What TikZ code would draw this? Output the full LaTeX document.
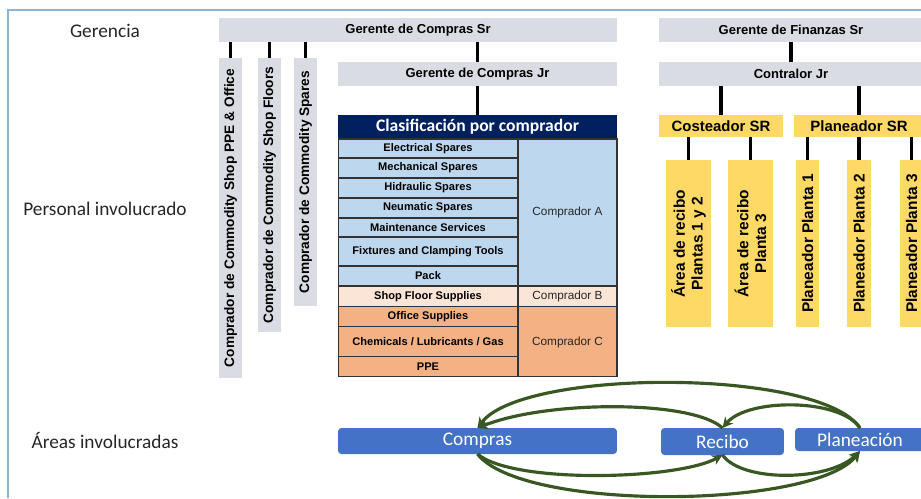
\documentclass[tikz,border=0pt]{standalone}
\usepackage{fontspec}
\setmainfont{Liberation Sans}
\newfontfamily\calibri{Carlito}
\usetikzlibrary{positioning,arrows.meta}

\definecolor{boxgrey}{RGB}{217,220,227}
\definecolor{navy}{RGB}{0,32,96}
\definecolor{rowblue}{RGB}{189,215,238}
\definecolor{rowpeach}{RGB}{251,229,214}
\definecolor{roworange}{RGB}{244,177,131}
\definecolor{ylw}{RGB}{255,217,102}
\definecolor{areablue}{RGB}{68,114,196}
\definecolor{flowgreen}{RGB}{56,87,35}
\definecolor{frameblue}{RGB}{140,180,214}

\begin{document}
\begin{tikzpicture}[x=0.02cm, y=-0.02cm, >={Stealth[length=6pt,width=6pt]}]
    % Define styles
    \tikzstyle{side_label} = [font=\calibri\fontsize{11}{13}\selectfont, text=black!85]
    \tikzstyle{grey_box} = [rectangle, fill=boxgrey, inner sep=0pt, outer sep=0pt, minimum height=0.48cm, font=\fontsize{7.4}{9}\selectfont\bfseries]
    \tikzstyle{grey_bar} = [rectangle, fill=boxgrey, inner sep=0pt, outer sep=0pt, rotate=90, minimum height=0.46cm, font=\fontsize{7.8}{9}\selectfont\bfseries]
    \tikzstyle{navy_box} = [rectangle, fill=navy, text=white, inner sep=0pt, outer sep=0pt, minimum width=5.58cm, minimum height=0.48cm, font=\calibri\fontsize{10}{12}\selectfont\bfseries]
    \tikzstyle{row_a} = [rectangle, draw=black!80, line width=0.6pt, inner sep=0pt, outer sep=0pt, minimum width=3.6cm, font=\fontsize{6.3}{8}\selectfont\bfseries]
    \tikzstyle{buyer} = [rectangle, draw=black!80, line width=0.6pt, inner sep=0pt, outer sep=0pt, minimum width=1.98cm, font=\fontsize{6.7}{8}\selectfont, text=black!85]
    \tikzstyle{ylw_box} = [rectangle, fill=ylw, inner sep=0pt, outer sep=0pt, minimum height=0.44cm, font=\fontsize{8.5}{10}\selectfont\bfseries]
    \tikzstyle{ylw_bar} = [rectangle, fill=ylw, inner sep=0pt, outer sep=0pt, rotate=90, minimum width=3.34cm, align=center, font=\fontsize{8.8}{10}\selectfont\bfseries]
    \tikzstyle{area_box} = [rectangle, rounded corners=2pt, fill=areablue, text=white, inner sep=0pt, outer sep=0pt, font=\calibri\fontsize{11}{13}\selectfont]
    \tikzstyle{link} = [line width=2.2pt, black]
    \tikzstyle{flow} = [->, line width=1.8pt, flowgreen]

    \useasboundingbox (0,0) rectangle (921,498);
    \draw[line width=1.2pt, frameblue] (8,498) -- (8,10) -- (921,10);

    % LEFT LABELS
    \node (lbl_gerencia) [side_label] at (105,31) {Gerencia};
    \node (lbl_personal) [side_label] at (105,209) {Personal involucrado};
    \node (lbl_areas) [side_label] at (105,440) {Áreas involucradas};

    % COMPRAS
    \node (gc_sr) [grey_box, minimum width=7.96cm] at (418,30) {Gerente de Compras Sr};
    \node (gc_jr) [grey_box, minimum width=5.58cm] at (477.5,74) {Gerente de Compras Jr};
    \node (buyer_ppe) [grey_bar, minimum width=6.4cm] at (230.5,218) {Comprador de Commodity Shop PPE \& Office};
    \node (buyer_floor) [grey_bar, minimum width=5.48cm] at (269.5,195) {Comprador de Commodity Shop Floors};
    \node (buyer_spares) [grey_bar, minimum width=4.96cm] at (305.5,182) {Comprador de Commodity Spares};

    % Clasificacion table
    \node (clasif) [navy_box] at (477.5,127) {Clasificación por comprador};
    \node (r_elec) [row_a, fill=rowblue, minimum height=0.38cm, anchor=north west] at (clasif.south west) {Electrical Spares};
    \node (r_mech) [row_a, fill=rowblue, minimum height=0.4cm, below=0cm of r_elec] {Mechanical Spares};
    \node (r_hidr) [row_a, fill=rowblue, minimum height=0.4cm, below=0cm of r_mech] {Hidraulic Spares};
    \node (r_neum) [row_a, fill=rowblue, minimum height=0.4cm, below=0cm of r_hidr] {Neumatic Spares};
    \node (r_maint) [row_a, fill=rowblue, minimum height=0.38cm, below=0cm of r_neum] {Maintenance Services};
    \node (r_fix) [row_a, fill=rowblue, minimum height=0.58cm, below=0cm of r_maint] {Fixtures and Clamping Tools};
    \node (r_pack) [row_a, fill=rowblue, minimum height=0.4cm, below=0cm of r_fix] {Pack};
    \node (r_shop) [row_a, fill=rowpeach, minimum height=0.42cm, below=0cm of r_pack] {Shop Floor Supplies};
    \node (r_office) [row_a, fill=roworange, minimum height=0.4cm, below=0cm of r_shop] {Office Supplies};
    \node (r_chem) [row_a, fill=roworange, minimum height=0.6cm, below=0cm of r_office] {Chemicals / Lubricants / Gas};
    \node (r_ppe) [row_a, fill=roworange, minimum height=0.4cm, below=0cm of r_chem] {PPE};
    \node (buyer_a) [buyer, fill=rowblue, minimum height=2.94cm, anchor=north west] at (r_elec.north east) {Comprador A};
    \node (buyer_b) [buyer, fill=rowpeach, minimum height=0.42cm, below=0cm of buyer_a] {Comprador B};
    \node (buyer_c) [buyer, fill=roworange, minimum height=1.4cm, below=0cm of buyer_b] {Comprador C};

    % FINANZAS
    \node (gf_sr) [grey_box, minimum width=5.28cm] at (791,30) {Gerente de Finanzas Sr};
    \node (contralor) [grey_box, minimum width=5.28cm] at (791,74) {Contralor Jr};
    \node (costeador) [ylw_box, minimum width=2.48cm] at (721,126) {Costeador SR};
    \node (planeador) [ylw_box, minimum width=2.6cm] at (859,126) {Planeador SR};
    \node (recibo_12) [ylw_bar, minimum height=0.9cm] at (688.5,243.5) {Área de recibo\\Plantas 1 y 2};
    \node (recibo_3) [ylw_bar, minimum height=0.9cm] at (750.5,243.5) {Área de recibo\\Planta 3};
    \node (plan_1) [ylw_bar, minimum height=0.46cm] at (807.5,243.5) {Planeador Planta 1};
    \node (plan_2) [ylw_bar, minimum height=0.48cm] at (859,243.5) {Planeador Planta 2};
    \node (plan_3) [ylw_bar, minimum height=0.46cm] at (911.5,243.5) {Planeador Planta 3};

    % AREAS
    \node (compras) [area_box, minimum width=5.58cm, minimum height=0.52cm] at (477.5,441) {Compras};
    \node (recibo) [area_box, minimum width=2.46cm, minimum height=0.54cm] at (722.5,441.5) {Recibo};
    \node (planeacion) [area_box, minimum width=2.6cm, minimum height=0.46cm] at (860,439.5) {Planeación};

    % CONNECTIONS
    \draw[link] (gc_sr.south -| buyer_ppe.center) -- (buyer_ppe.east);
    \draw[link] (gc_sr.south -| buyer_floor.center) -- (buyer_floor.east);
    \draw[link] (gc_sr.south -| buyer_spares.center) -- (buyer_spares.east);
    \draw[link] (gc_sr.south -| gc_jr.north) -- (gc_jr.north);
    \draw[link] (gc_jr.south) -- (clasif.north);

    \draw[link] (gf_sr.south) -- (contralor.north);
    \draw[link] (contralor.south -| costeador.north) -- (costeador.north);
    \draw[link] (contralor.south -| planeador.north) -- (planeador.north);
    \draw[link] (costeador.south -| recibo_12.center) -- (recibo_12.east);
    \draw[link] (costeador.south -| recibo_3.center) -- (recibo_3.east);
    \draw[link] (planeador.south -| plan_1.center) -- (plan_1.east);
    \draw[link] (planeador.south -| plan_2.center) -- (plan_2.east);
    \draw[link] (planeador.south -| plan_3.center) -- (plan_3.east);

    % Flows between areas
    \draw[flow] (planeacion.north) .. controls +(-40,-60) and +(45,-60) .. (compras.north);
    \draw[flow] (recibo.north) .. controls +(-30,-28) and +(70,-28) .. (compras.north);
    \draw[flow] (planeacion.north) .. controls +(-20,-30) and +(25,-30) .. (recibo.north);
    \draw[flow] (compras.south) .. controls +(35,30) and +(-45,25) .. (recibo.south);
    \draw[flow] (compras.south) .. controls +(45,58) and +(-45,58) .. (planeacion.south);
    \draw[flow] (recibo.south) .. controls +(20,28) and +(-30,30) .. (planeacion.south);

\end{tikzpicture}
\end{document}
